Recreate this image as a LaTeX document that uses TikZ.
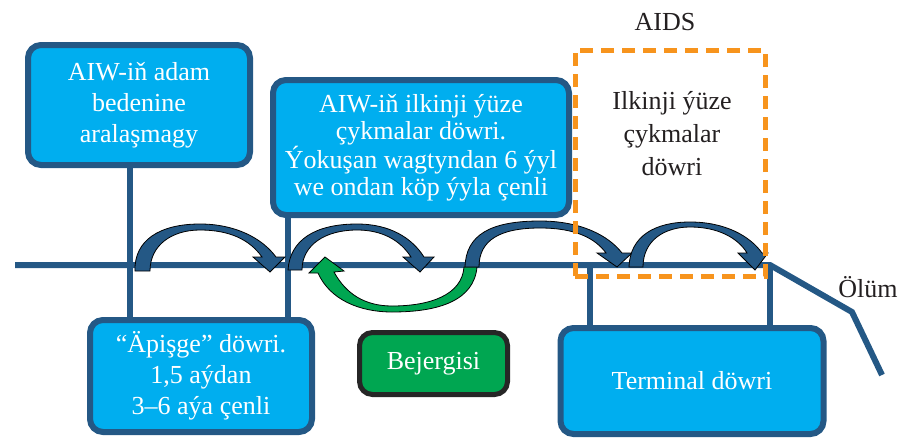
\documentclass[tikz,border=0pt]{standalone}
\usepackage{fontspec}
\setmainfont{LiberationSerif}[Extension=.ttf, UprightFont=*-Regular, BoldFont=*-Bold]
\usepackage{tikz}
\usetikzlibrary{calc}

\definecolor{darkblue}{RGB}{36,88,133}
\definecolor{skyblue}{RGB}{0,174,239}
\definecolor{leafgreen}{RGB}{0,166,81}
\definecolor{aidsorange}{RGB}{247,148,29}
\definecolor{inkgray}{RGB}{35,31,32}

\tikzset{
  tline/.style={draw=darkblue, line width=6pt},
  stagebox/.style={draw=darkblue, line width=6pt, fill=skyblue, rounded corners=13pt,
    text=white, align=center, inner sep=0pt, font=\fontsize{26}{31}\selectfont},
  curvearrow/.style={fill=darkblue, draw=black, line width=0.8pt},
  aidsbox/.style={draw=aidsorange, line width=5pt, dash pattern=on 13pt off 8pt},
  plaintext/.style={text=inkgray, align=center, inner sep=0pt, font=\fontsize{26}{33}\selectfont}
}

\begin{document}
\begin{tikzpicture}[x=1pt, y=-1pt]
  \useasboundingbox (0,0) rectangle (905,439);

  % points on the time line
  \coordinate (t1) at (130,265);
  \coordinate (t2) at (288,265);
  \coordinate (t3) at (590,265);
  \coordinate (t4) at (770,265);
  \coordinate (bend) at (852,312);
  \coordinate (tend) at (882,375);

  \draw[tline] (15,265) -- (t4) -- (bend) -- (tend);
  \draw[tline] (t3) -- (590,325);
  \draw[tline] (t4) -- (770,325);

  % stage boxes
  \node[stagebox, minimum width=222pt, minimum height=120pt] (entry) at (139,105)
    {AIW-iň adam\\bedenine\\aralaşmagy};
  \node[stagebox, minimum width=296pt, minimum height=135pt,
    font=\fontsize{26}{27}\selectfont] (primary) at (421,147.5)
    {AIW-iň ilkinji ýüze\\çykmalar döwri.\\Ýokuşan wagtyndan 6 ýyl\\we ondan köp ýyla çenli};
  \node[stagebox, minimum width=222pt, minimum height=112pt] (window) at (201,376)
    {“Äpişge” döwri.\\1,5 aýdan\\3–6 aýa çenli};
  \node[stagebox, minimum width=263pt, minimum height=106pt] (terminal) at (692,381)
    {Terminal döwri};
  \node[stagebox, draw=black!85, fill=leafgreen, line width=5pt, minimum width=148pt,
    minimum height=62pt] (therapy) at (433.5,363.5) {Bejergisi};

  \draw[tline] (entry.south -| t1) -- (window.north -| t1);
  \draw[tline] (primary.south -| t2) -- (window.north -| t2);

  % curved arrows along the time line
  \draw[curvearrow] (135,271) .. controls (134,240) and (160,224) .. (200,224)
    .. controls (235,224) and (262,238) .. (276,257) -- (285,257) -- (270,272) -- (253,257)
    -- (262,257) .. controls (250,240) and (230,230) .. (200,230)
    .. controls (172,230) and (150,245) .. (150,271) -- cycle;
  \draw[curvearrow] (288,270) .. controls (290,240) and (315,224) .. (357,224)
    .. controls (390,224) and (412,238) .. (424,257) -- (434,257) -- (420,272) -- (403,257)
    -- (411,257) .. controls (400,240) and (382,230) .. (357,230)
    .. controls (325,230) and (302,245) .. (302,270) -- cycle;
  \draw[curvearrow, fill=leafgreen] (477,267) .. controls (474,300) and (440,312) .. (392,312)
    .. controls (360,312) and (330,300) .. (318,273) -- (309,273) -- (325,257) -- (344,271)
    -- (334,272) .. controls (346,294) and (365,306) .. (392,306)
    .. controls (430,306) and (462,295) .. (464,267) -- cycle;
  \draw[curvearrow] (465,267) .. controls (466,235) and (490,221) .. (540,221)
    .. controls (580,221) and (608,235) .. (622,253) -- (632,253) -- (617,267) -- (597,253)
    -- (606,253) .. controls (595,238) and (575,228) .. (540,228)
    .. controls (500,228) and (479,240) .. (479,267) -- cycle;
  \draw[curvearrow] (629,267) .. controls (630,236) and (655,222) .. (690,222)
    .. controls (725,222) and (750,236) .. (762,253) -- (768,253) -- (755,270) -- (738,253)
    -- (747,253) .. controls (738,238) and (718,227) .. (690,227)
    .. controls (665,227) and (643,240) .. (643,267) -- cycle;

  % AIDS stage
  \node[aidsbox, minimum width=190pt, minimum height=226pt, inner sep=0pt] (aids) at (670,163) {};
  \node[plaintext] (aidstext) at (672,134) {Ilkinji ýüze\\çykmalar\\döwri};
  \node[plaintext] (aidslabel) at (665,22) {AIDS};
  \node[plaintext] (death) at (868,287) {Ölüm};
\end{tikzpicture}
\end{document}
